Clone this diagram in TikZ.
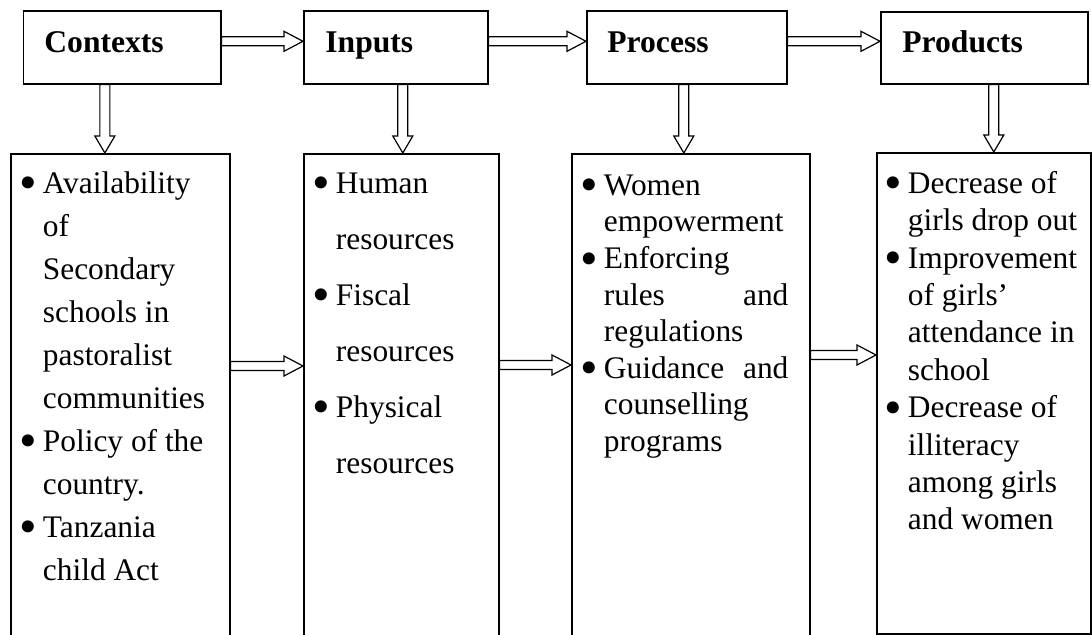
\documentclass[tikz,border=0pt]{standalone}
\usepackage{fontspec}
\setmainfont{Liberation Serif}
\usetikzlibrary{calc}
\newcommand\bodyfs[1]{\fontsize{15.7pt}{#1}\selectfont\parindent=0pt\relax}
\newcommand\bul{\makebox[11.25pt][l]{\hspace{-0.6pt}\raisebox{-3.3pt}{\scalebox{1.6}{\textbullet}}}}
\newcommand\ind{\hspace*{11.25pt}}
\begin{document}
\begin{tikzpicture}[x=0.5pt,y=-0.5pt,
  box/.style={draw, line width=0.8pt, inner sep=0pt, anchor=north west},
  hdr/.style={anchor=base west, inner sep=0pt, font=\bfseries\fontsize{15.8pt}{18pt}\selectfont},
  bodytxt/.style={anchor=north west, inner sep=0pt, align=flush left, text width=#1},
  harrow/.style={draw, fill=white, line width=0.6pt,
    to path={let \p1=(\tikztostart), \p2=(\tikztotarget) in
      (\x1,\y1+2.25pt) -- (\x2-9.5pt,\y1+2.25pt) -- (\x2-9.5pt,\y1+5pt) -- (\x2,\y1)
      -- (\x2-9.5pt,\y1-5pt) -- (\x2-9.5pt,\y1-2.25pt) -- (\x1,\y1-2.25pt) -- cycle}},
  varrow/.style={draw, fill=white, line width=0.6pt,
    to path={let \p1=(\tikztostart), \p2=(\tikztotarget) in
      (\x1-2.5pt,\y1) -- (\x1-2.5pt,\y2+8.5pt) -- (\x1-5pt,\y2+8.5pt) -- (\x1,\y2)
      -- (\x1+5pt,\y2+8.5pt) -- (\x1+2.5pt,\y2+8.5pt) -- (\x1+2.5pt,\y1) -- cycle}}]

\fill[white] (0,0) rectangle (1092,635);
\useasboundingbox (0,0) rectangle (1092,635);

% top boxes
\node[box, minimum width=98.75pt, minimum height=36.5pt] (ctx) at (22.5,10) {};
\node[box, minimum width=92pt, minimum height=36.5pt] (inp) at (303,10) {};
\node[box, minimum width=100pt, minimum height=36.5pt] (proc) at (586,10) {};
\node[box, minimum width=103.5pt, minimum height=35.75pt] (prod) at (880,11.5) {};

\node[hdr] (ctxl) at ([xshift=10.75pt,yshift=-2.75pt]ctx.west) {Contexts};
\node[hdr] (inpl) at ([xshift=11pt,yshift=-2.75pt]inp.west) {Inputs};
\node[hdr] (procl) at ([xshift=10.5pt,yshift=-2.75pt]proc.west) {Process};
\node[hdr] (prodl) at ([xshift=11pt,yshift=-2.4pt]prod.west) {Products};

% bottom boxes
\node[box, minimum width=109.5pt, minimum height=248.5pt] (ctxb) at (10,153) {};
\node[box, minimum width=97.5pt, minimum height=248.5pt] (inpb) at (303,153) {};
\node[box, minimum width=119pt, minimum height=248.5pt] (procb) at (571,153) {};
\node[box, minimum width=107pt, minimum height=240.5pt] (prodb) at (876,152) {};

\node[bodytxt=120pt, font=\bodyfs{21.5pt}] (ctxt) at ([xshift=5pt]ctxb.north west)
 {\rule{0pt}{20pt}\bul Availability\\
  \ind of\\
  \ind Secondary\\
  \ind schools in\\
  \ind pastoralist\\
  \ind communities\\
  \bul Policy of the\\
  \ind country.\\
  \bul Tanzania\\
  \ind child Act};

\node[bodytxt=120pt, font=\bodyfs{28pt}] (inpt) at ([xshift=5pt]inpb.north west)
 {\rule{0pt}{20pt}\bul Human\\
  \ind resources\\
  \bul Fiscal\\
  \ind resources\\
  \bul Physical\\
  \ind resources};

\node[bodytxt=103.5pt, font=\bodyfs{18.3pt}] (proct) at ([xshift=5pt]procb.north west)
 {\rule{0pt}{21pt}\bul Women\\
  \ind empowerment\\
  \bul Enforcing\\
  \ind rules \hfill and\\
  \ind regulations\\
  \bul Guidance \hfill and\\
  \ind counselling\\
  \ind programs};

\node[bodytxt=120pt, font=\bodyfs{18.7pt}] (prodt) at ([xshift=4.5pt]prodb.north west)
 {\rule{0pt}{20.5pt}\bul Decrease of\\
  \ind girls drop out\\
  \bul Improvement\\
  \ind of girls’\\
  \ind attendance in\\
  \ind school\\
  \bul Decrease of\\
  \ind illiteracy\\
  \ind among girls\\
  \ind and women};

% top horizontal arrows
\path[harrow] ([yshift=3pt]ctx.east) to (inp.west);
\path[harrow] ([yshift=3pt]inp.east) to (proc.west);
\path[harrow] ([yshift=3pt]proc.east) to (prod.west);

% vertical arrows
\path[varrow] ([xshift=-8.6pt]ctx.south) to (ctxb.north);
\path[varrow] ([xshift=3.5pt]inp.south) to (inpb.north);
\path[varrow] ([xshift=-1.5pt]proc.south) to (procb.north);
\path[varrow] ([xshift=4.75pt]prod.south) to (prodb.north);

% bottom horizontal arrows
\path[harrow] ([yshift=-106.5pt]ctxb.north east) to (inpb.west);
\path[harrow] ([yshift=-106pt]inpb.north east) to (procb.west);
\path[harrow] ([yshift=-101pt]procb.north east) to (prodb.west);
\end{tikzpicture}
\end{document}
